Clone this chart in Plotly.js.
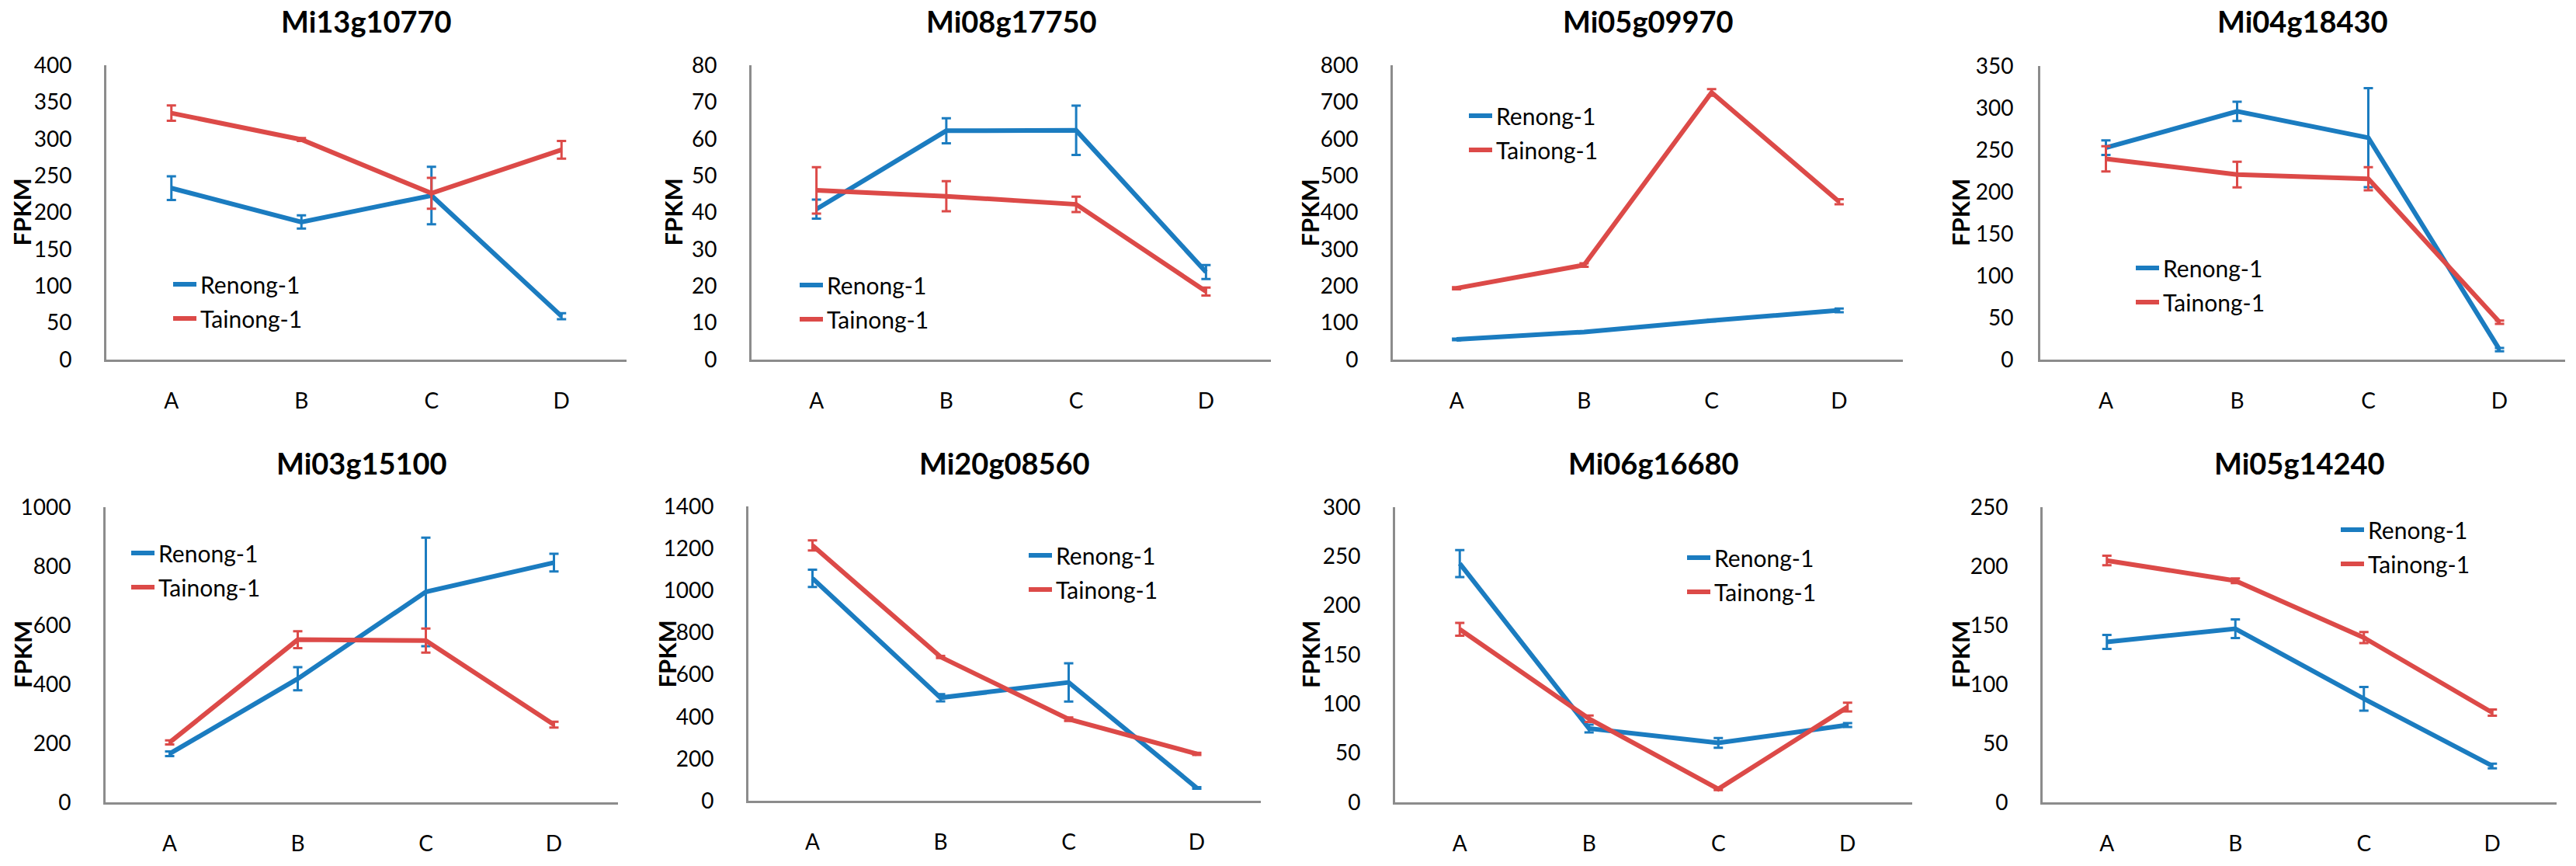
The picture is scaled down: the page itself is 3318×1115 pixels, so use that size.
<!DOCTYPE html>
<html>
<head>
<meta charset="utf-8">
<script src="https://cdn.plot.ly/plotly-3.0.1.min.js"></script>
<style>
  html, body { margin: 0; padding: 0; background: #fff; }
  #chart { width: 3318px; height: 1115px; }
</style>
</head>
<body>
<div id="chart"></div>
<script>
// FPKM of 8 genes in two cultivars, stages A-D
var categories = ['A', 'B', 'C', 'D'];
var seriesNames = ['Renong-1', 'Tainong-1'];
var geneIds = ['Mi13g10770', 'Mi08g17750', 'Mi05g09970', 'Mi04g18430',
               'Mi03g15100', 'Mi20g08560', 'Mi06g16680', 'Mi05g14240'];
var yMax  = [400, 80, 800, 350, 1000, 1400, 300, 250];
var yStep = [50, 10, 100, 50, 200, 200, 50, 50];

var renongFpkm = [
    [233, 187, 223, 59],
    [40.9, 62.2, 62.3, 23.8],
    [55, 75, 106, 134],
    [252.6, 295.9, 264.5, 11.9],
    [164.6, 418.6, 713, 812],
    [1058, 490, 563, 61],
    [242.7, 75, 60.4, 78.5],
    [135.9, 147, 87.7, 30.8]
];
var renongSd = [
    [16, 9, 39, 4],
    [2.6, 3.4, 6.7, 1.9],
    [2, 2, 2, 5],
    [8.7, 11.5, 59, 2],
    [8, 39, 184, 30],
    [41, 17, 91, 4],
    [13.7, 4, 5, 2],
    [5.9, 7.9, 10, 2]
];
var tainongFpkm = [
    [335, 299, 226, 285],
    [46.0, 44.4, 42.2, 18.5],
    [194, 257, 726, 429],
    [239.4, 220.6, 215.6, 44.6],
    [203, 551, 548, 263],
    [1214, 684, 388, 223],
    [175.8, 85, 13.5, 96.8],
    [204.8, 187.7, 139.5, 76]
];
var tainongSd = [
    [10.5, 2, 21, 12],
    [6.3, 4.1, 2.1, 1.1],
    [3, 5, 9, 7],
    [15, 15.3, 13.7, 2],
    [7, 28.7, 40.5, 10],
    [24, 5, 8, 5],
    [6.5, 3.3, 1, 4.5],
    [4, 2, 4.7, 2.6]
];

var W = 3318, H = 1115;
var blue = '#1b7cc0', red = '#dc4a48', axisGrey = '#8c8c8c';
var fontFam = 'Lato, Carlito, Calibri, sans-serif';

// plot boxes in pixels: left, right, top, bottom
var panels = [
    [137, 807, 84, 463], [968, 1637, 84, 463], [1794, 2451, 84, 463], [2628, 3304, 85, 463],
    [136, 796, 653, 1033], [964, 1624, 652, 1031], [1797, 2463, 653, 1033], [2631, 3293, 653, 1033]
];
// gap between y tick labels and axis line
var yLabelGap = [36, 36, 36, 26, 36, 36, 36, 36];
// legend: left of sample line, centre of first entry (px)
var legendPos = [
    [225, 363], [1032, 364], [1894, 146], [2753, 342],
    [171, 709], [1327, 712], [2175, 715], [3017, 679]
];
// FPKM label centre x (px)
var yTitleX = [27, 866, 1686, 2525, 29, 858, 1688, 2525];

var data = [];
var layout = {
    width: W,
    height: H,
    margin: {l: 0, r: 0, t: 0, b: 0},
    paper_bgcolor: '#fff',
    plot_bgcolor: '#fff',
    font: {family: fontFam, size: 28, color: '#000'},
    annotations: []
};

for (var i = 0; i < geneIds.length; i++) {
    var n = i + 1;
    var xa = n == 1 ? 'x' : 'x' + n;
    var ya = n == 1 ? 'y' : 'y' + n;
    var lg = n == 1 ? 'legend' : 'legend' + n;
    var p = panels[i];

    data.push({
        x: categories,
        y: renongFpkm[i],
        name: seriesNames[0],
        type: 'scatter',
        mode: 'lines',
        line: {color: blue, width: 6},
        error_y: {type: 'data', array: renongSd[i], visible: true, color: blue, thickness: 3, width: 6},
        xaxis: xa, yaxis: ya, legend: lg, legendgroup: 'r' + n
    });
    data.push({
        x: categories,
        y: tainongFpkm[i],
        name: seriesNames[1],
        type: 'scatter',
        mode: 'lines',
        line: {color: red, width: 6},
        error_y: {type: 'data', array: tainongSd[i], visible: true, color: red, thickness: 3, width: 6},
        xaxis: xa, yaxis: ya, legend: lg, legendgroup: 't' + n
    });

    layout['xaxis' + (n == 1 ? '' : n)] = {
        domain: [p[0] / W, p[1] / W],
        anchor: ya,
        type: 'category',
        categoryorder: 'array',
        categoryarray: categories,
        range: [-0.5, 3.5],
        showline: true,
        linecolor: axisGrey,
        linewidth: 3,
        showgrid: false,
        zeroline: false,
        ticks: 'outside',
        ticklen: 26,
        tickcolor: 'rgba(0,0,0,0)',
        tickfont: {family: fontFam, size: 28, color: '#000'},
        fixedrange: true
    };
    layout['yaxis' + (n == 1 ? '' : n)] = {
        domain: [1 - p[3] / H, 1 - p[2] / H],
        anchor: xa,
        range: [0, yMax[i]],
        dtick: yStep[i],
        tick0: 0,
        showline: true,
        linecolor: axisGrey,
        linewidth: 3,
        showgrid: false,
        zeroline: false,
        ticks: 'outside',
        ticklen: yLabelGap[i],
        tickcolor: 'rgba(0,0,0,0)',
        tickfont: {family: fontFam, size: 28, color: '#000'},
        fixedrange: true
    };
    layout[lg] = {
        x: (legendPos[i][0] - 7) / W,
        y: 1 - (legendPos[i][1] - 23) / H,
        xanchor: 'left',
        yanchor: 'top',
        bgcolor: 'rgba(0,0,0,0)',
        borderwidth: 0,
        traceorder: 'grouped',
        tracegroupgap: 2,
        font: {family: fontFam, size: 30, color: '#000'}
    };

    // panel title
    layout.annotations.push({
        text: '<b>' + geneIds[i] + '</b>',
        xref: xa + ' domain', x: 0.5,
        yref: 'paper', y: 1 - (i < 4 ? 27 : 596) / H,
        xanchor: 'center', yanchor: 'middle',
        showarrow: false,
        font: {family: fontFam, size: 38, color: '#000'}
    });
    // y axis label
    layout.annotations.push({
        text: '<b>FPKM</b>',
        xref: 'paper', x: yTitleX[i] / W,
        yref: ya + ' domain', y: 0.5,
        xanchor: 'center', yanchor: 'middle',
        textangle: -90,
        showarrow: false,
        font: {family: fontFam, size: 31, color: '#000'}
    });
}

Plotly.newPlot('chart', data, layout, {displayModeBar: false, staticPlot: true});
</script>
</body>
</html>
